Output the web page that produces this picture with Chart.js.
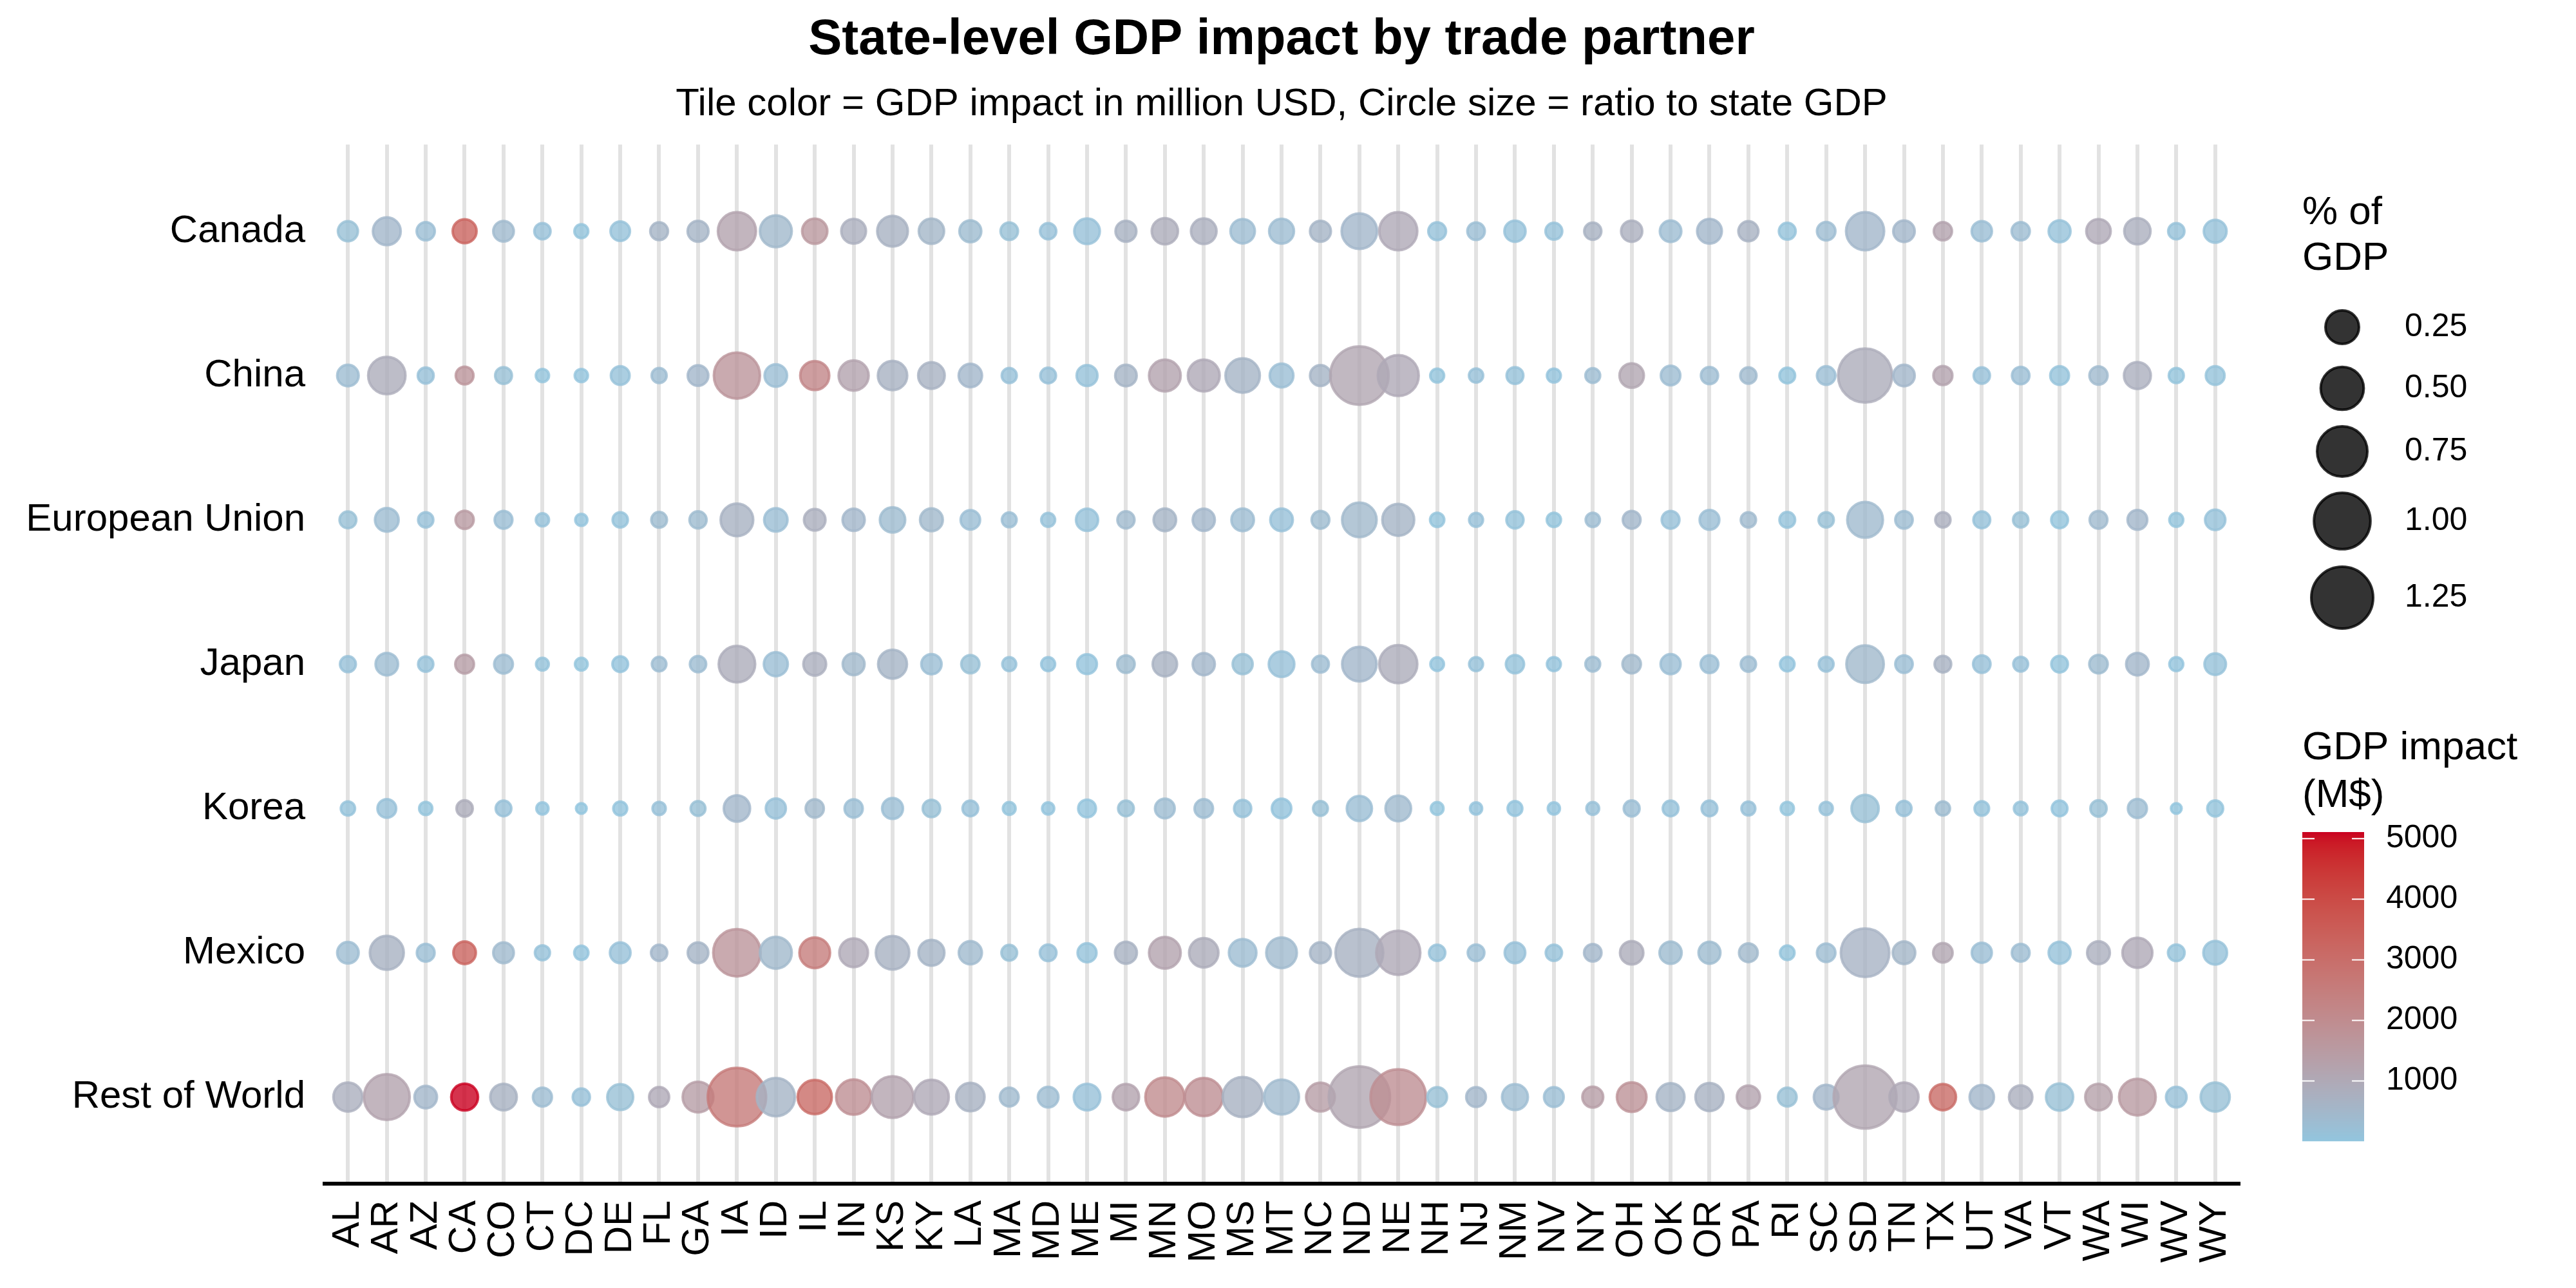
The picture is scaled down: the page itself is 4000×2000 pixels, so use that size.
<!DOCTYPE html>
<html><head><meta charset="utf-8">
<script src="https://cdn.jsdelivr.net/npm/chart.js@4.4.1/dist/chart.umd.min.js"></script>
<style>html,body{margin:0;padding:0;background:#fff;}canvas{display:block;}</style>
</head><body>
<canvas id="c" width="4000" height="2000" style="width:4000px;height:2000px"></canvas>
<script>
// ---------- DATA ----------
const states = ["AL","AR","AZ","CA","CO","CT","DC","DE","FL","GA","IA","ID","IL","IN","KS","KY","LA","MA","MD","ME","MI","MN","MO","MS","MT","NC","ND","NE","NH","NJ","NM","NV","NY","OH","OK","OR","PA","RI","SC","SD","TN","TX","UT","VA","VT","WA","WI","WV","WY"];
const partners = ["Canada","China","European Union","Japan","Korea","Mexico","Rest of World"];

// GDP impact (million USD) -> colour
const impactCanada = [200,500,250,3300,400,150,50,100,600,600,1200,450,1600,800,700,550,350,200,150,150,700,900,800,300,300,600,500,1000,100,250,100,100,700,800,300,500,700,80,300,500,500,1200,250,300,100,1000,800,100,100];
const impactChina  = [300,900,150,1700,200,50,30,100,300,500,1700,250,2200,1200,700,700,500,150,150,100,600,1200,1000,600,250,600,1100,1000,50,150,100,60,300,1100,300,300,400,50,250,900,500,1200,150,250,80,400,800,50,80];
const impactEU     = [200,300,150,1500,250,100,30,80,350,350,700,250,800,500,350,450,250,250,100,100,400,600,500,300,150,350,450,600,50,150,80,50,300,500,150,250,400,80,200,400,300,800,100,200,50,400,500,50,100];
const impactJapan  = [150,300,100,1400,300,80,20,60,300,300,900,250,800,450,600,250,200,100,60,60,350,700,500,200,150,300,500,900,40,120,80,60,300,450,250,250,300,40,150,450,250,700,150,150,50,350,500,40,100];
const impactKorea  = [80,150,50,900,150,30,5,30,150,200,500,150,450,250,250,200,150,50,40,40,200,300,300,100,60,200,250,400,20,60,40,30,150,250,100,150,150,20,100,200,150,350,80,80,30,200,300,10,50];
const impactMexico = [300,700,250,3300,400,100,40,150,500,600,1700,450,2500,1000,700,600,400,200,150,80,700,1200,900,300,400,600,700,1000,100,250,150,100,500,900,350,350,450,50,300,650,550,1100,250,300,100,800,1000,80,100];
const impactRoW    = [800,1200,500,5110,700,300,150,200,1000,1400,2600,600,3100,1900,1200,1000,700,400,300,150,1200,2000,1900,700,400,1400,1100,1900,200,500,300,250,1400,1800,600,700,1200,200,500,1100,1000,3100,500,800,200,1300,1500,150,200];

// Ratio to state GDP (%) -> circle size
const pctCanada = [0.042,0.14,0.027,0.084,0.047,0.015,0.005,0.037,0.024,0.05,0.358,0.214,0.101,0.094,0.19,0.102,0.06,0.022,0.015,0.106,0.05,0.116,0.106,0.09,0.096,0.05,0.294,0.358,0.024,0.022,0.053,0.018,0.02,0.053,0.056,0.094,0.042,0.018,0.029,0.358,0.056,0.027,0.044,0.027,0.06,0.09,0.116,0.015,0.07];
const pctChina  = [0.056,0.338,0.013,0.024,0.018,0.003,0.003,0.031,0.009,0.047,0.599,0.067,0.161,0.179,0.166,0.12,0.077,0.009,0.012,0.05,0.056,0.21,0.213,0.267,0.081,0.05,1.083,0.437,0.005,0.006,0.018,0.005,0.008,0.09,0.037,0.02,0.015,0.012,0.029,0.896,0.056,0.033,0.015,0.022,0.031,0.027,0.125,0.009,0.031];
const pctEU     = [0.018,0.081,0.010,0.027,0.024,0.003,0.001,0.010,0.012,0.02,0.229,0.077,0.056,0.063,0.102,0.07,0.037,0.008,0.005,0.063,0.02,0.067,0.063,0.067,0.067,0.024,0.271,0.214,0.006,0.005,0.02,0.006,0.006,0.024,0.024,0.039,0.010,0.012,0.010,0.298,0.022,0.010,0.018,0.010,0.018,0.024,0.039,0.005,0.044];
const pctJapan  = [0.013,0.067,0.010,0.031,0.031,0.002,0.002,0.012,0.007,0.015,0.317,0.085,0.07,0.06,0.158,0.044,0.027,0.005,0.005,0.039,0.022,0.09,0.063,0.042,0.106,0.018,0.27,0.358,0.004,0.005,0.027,0.005,0.008,0.029,0.042,0.024,0.010,0.007,0.008,0.341,0.022,0.017,0.022,0.008,0.017,0.029,0.067,0.005,0.056];
const pctKorea  = [0.006,0.031,0.003,0.015,0.012,0.001,0.0,0.005,0.003,0.008,0.116,0.042,0.027,0.027,0.05,0.022,0.012,0.002,0.001,0.024,0.012,0.039,0.029,0.02,0.037,0.008,0.1,0.106,0.002,0.001,0.008,0.001,0.002,0.013,0.012,0.012,0.005,0.003,0.003,0.13,0.009,0.006,0.007,0.004,0.012,0.015,0.033,0.0,0.013];
const pctMexico = [0.056,0.258,0.024,0.067,0.047,0.009,0.006,0.047,0.015,0.047,0.643,0.214,0.19,0.155,0.248,0.111,0.074,0.012,0.017,0.033,0.06,0.21,0.166,0.135,0.19,0.05,0.655,0.533,0.015,0.017,0.047,0.015,0.022,0.077,0.063,0.06,0.031,0.007,0.029,0.682,0.067,0.037,0.042,0.024,0.06,0.07,0.177,0.017,0.081];
const pctRoW    = [0.161,0.588,0.067,0.125,0.12,0.033,0.02,0.111,0.042,0.192,1.083,0.362,0.264,0.286,0.458,0.275,0.15,0.031,0.047,0.12,0.116,0.383,0.358,0.41,0.28,0.156,1.218,0.956,0.039,0.039,0.111,0.039,0.05,0.171,0.14,0.145,0.074,0.031,0.094,1.297,0.161,0.116,0.09,0.077,0.13,0.12,0.322,0.047,0.161];

const sizeBreaks = [0.25, 0.50, 0.75, 1.00, 1.25];
const colorBreaks = [1000, 2000, 3000, 4000, 5000];

const impactRows = [impactCanada, impactChina, impactEU, impactJapan, impactKorea, impactMexico, impactRoW];
const pctRows = [pctCanada, pctChina, pctEU, pctJapan, pctKorea, pctMexico, pctRoW];

// ---------- SCALES (colour in CIELAB, size by area) ----------
const LOW = "#92c5de", HIGH = "#ca0020";
const allImpact = impactRows.flat();
const cMin = Math.min(...allImpact), cMax = Math.max(...allImpact);
function hexToRgb(h){return [parseInt(h.slice(1,3),16),parseInt(h.slice(3,5),16),parseInt(h.slice(5,7),16)];}
function s2l(c){c/=255;return c<=0.04045?c/12.92:Math.pow((c+0.055)/1.055,2.4);}
function l2s(c){c=c<=0.0031308?12.92*c:1.055*Math.pow(c,1/2.4)-0.055;return Math.max(0,Math.min(255,Math.round(c*255)));}
const Xn=0.95047,Yn=1.0,Zn=1.08883;
function rgbToLab(rgb){
  const r=s2l(rgb[0]),g=s2l(rgb[1]),b=s2l(rgb[2]);
  const X=0.4124564*r+0.3575761*g+0.1804375*b, Y=0.2126729*r+0.7151522*g+0.0721750*b, Z=0.0193339*r+0.1191920*g+0.9503041*b;
  const f=t=>t>0.008856?Math.cbrt(t):7.787*t+16/116;
  const fx=f(X/Xn),fy=f(Y/Yn),fz=f(Z/Zn);
  return [116*fy-16,500*(fx-fy),200*(fy-fz)];
}
function labToRgb(lab){
  const fy=(lab[0]+16)/116, fx=fy+lab[1]/500, fz=fy-lab[2]/200;
  const fi=t=>{const t3=t*t*t;return t3>0.008856?t3:(t-16/116)/7.787;};
  const X=Xn*fi(fx),Y=Yn*fi(fy),Z=Zn*fi(fz);
  return [l2s(3.2404542*X-1.5371385*Y-0.4985314*Z), l2s(-0.9692660*X+1.8760108*Y+0.0415560*Z), l2s(0.0556434*X-0.2040259*Y+1.0572252*Z)];
}
const labLo=rgbToLab(hexToRgb(LOW)), labHi=rgbToLab(hexToRgb(HIGH));
function colorFor(v){
  const t=Math.max(0,Math.min(1,(v-cMin)/(cMax-cMin)));
  return labToRgb([0,1,2].map(k=>labLo[k]+(labHi[k]-labLo[k])*t));
}
function rgba(c,a){return `rgba(${c[0]},${c[1]},${c[2]},${a})`;}
const ALPHA = 0.8, BW = 4;
function diamFor(p){ return 20.4 + 71.2*Math.sqrt(Math.max(0,p)); }
function radiusFor(p){ return diamFor(p)/2 - BW/2; }

const FONT = "'Liberation Sans', Arial, Helvetica, sans-serif";

const datasets = partners.map((p, j) => ({
  label: p,
  data: states.map((s, i) => ({x: i, y: j, r: radiusFor(pctRows[j][i])})),
  backgroundColor: impactRows[j].map(v => rgba(colorFor(v), ALPHA)),
  borderColor: impactRows[j].map(v => rgba(colorFor(v), ALPHA)),
  borderWidth: BW,
  clip: false
}));

// ---------- LEGENDS ----------
const legendPlugin = {
  id: 'ggLegends',
  afterDraw(chart){
    const ctx = chart.ctx;
    ctx.save();
    ctx.fillStyle = '#000';
    ctx.textAlign = 'left';
    ctx.textBaseline = 'alphabetic';
    // size legend
    ctx.font = `62px ${FONT}`;
    ctx.fillText('% of', 3575, 348);
    ctx.fillText('GDP', 3575, 419);
    const cy = [508, 603, 701, 809, 928];
    sizeBreaks.forEach((b, k) => {
      const r = radiusFor(b);
      ctx.beginPath();
      ctx.arc(3637, cy[k], r, 0, Math.PI*2);
      ctx.fillStyle = 'rgba(0,0,0,0.8)';
      ctx.fill();
      ctx.lineWidth = BW;
      ctx.strokeStyle = 'rgba(0,0,0,0.8)';
      ctx.stroke();
      ctx.fillStyle = '#000';
      ctx.font = `50px ${FONT}`;
      ctx.textBaseline = 'middle';
      ctx.fillText(b.toFixed(2), 3734, cy[k]);
      ctx.textBaseline = 'alphabetic';
    });
    // colour bar
    ctx.font = `62px ${FONT}`;
    ctx.fillText('GDP impact', 3575, 1179);
    ctx.fillText('(M$)', 3575, 1253);
    const bx = 3575, bw = 96, bTop = 1292, bBot = 1772;
    for (let y = bTop; y < bBot; y++) {
      const v = cMax - (y + 0.5 - bTop) / (bBot - bTop) * (cMax - cMin);
      ctx.fillStyle = rgba(colorFor(v), 1);
      ctx.fillRect(bx, y, bw, 1.2);
    }
    colorBreaks.forEach(b => {
      const y = bBot - (b - cMin) / (cMax - cMin) * (bBot - bTop);
      ctx.strokeStyle = '#fff';
      ctx.lineWidth = 2;
      ctx.beginPath();
      ctx.moveTo(bx, y); ctx.lineTo(bx + 19, y);
      ctx.moveTo(bx + bw - 19, y); ctx.lineTo(bx + bw, y);
      ctx.stroke();
      ctx.fillStyle = '#000';
      ctx.font = `50px ${FONT}`;
      ctx.textBaseline = 'middle';
      ctx.fillText(String(b), 3705, y);
    });
    ctx.restore();
  }
};

new Chart(document.getElementById('c'), {
  type: 'bubble',
  data: { datasets },
  plugins: [legendPlugin],
  options: {
    responsive: false,
    devicePixelRatio: 1,
    animation: false,
    events: [],
    layout: { padding: { top: 0, right: 524, bottom: 0, left: 0 } },
    plugins: {
      legend: { display: false },
      tooltip: { enabled: false },
      title: {
        display: true, fullSize: false,
        text: 'State-level GDP impact by trade partner',
        color: '#000', font: { family: FONT, size: 78, weight: 'bold' },
        padding: { top: 16, bottom: 8 }
      },
      subtitle: {
        display: true, fullSize: false,
        text: 'Tile color = GDP impact in million USD, Circle size = ratio to state GDP',
        color: '#000', font: { family: FONT, size: 60 },
        padding: { top: 9, bottom: 26 }
      }
    },
    scales: {
      x: {
        type: 'linear', min: -0.6, max: 48.6,
        afterBuildTicks: a => { a.ticks = states.map((s, i) => ({ value: i })); },
        afterFit: a => { a.height = 162; },
        ticks: {
          autoSkip: false, minRotation: 90, maxRotation: 90, padding: 26,
          color: '#000', font: { family: FONT, size: 60 },
          callback: v => states[v]
        },
        grid: { color: '#e2e2e2', lineWidth: 6, drawTicks: false },
        border: { display: true, color: '#000', width: 6 }
      },
      y: {
        type: 'linear', min: -0.6, max: 6.6, reverse: true,
        afterBuildTicks: a => { a.ticks = partners.map((p, i) => ({ value: i })); },
        afterFit: a => { a.width = 504; },
        ticks: {
          autoSkip: false, padding: 30,
          color: '#000', font: { family: FONT, size: 60 },
          callback: v => partners[v]
        },
        grid: { display: false, drawTicks: false },
        border: { display: false }
      }
    }
  }
});
</script>
</body></html>
